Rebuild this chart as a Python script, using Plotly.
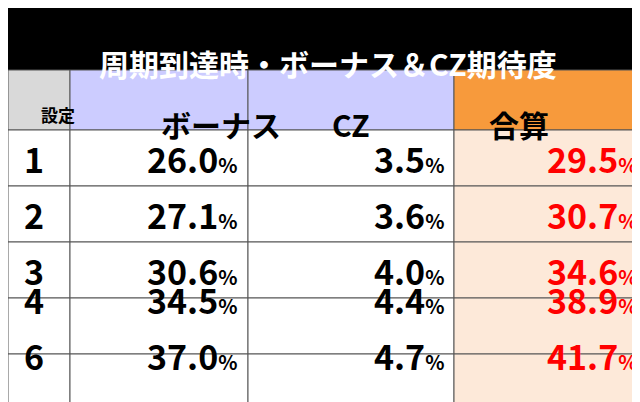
import plotly.graph_objects as go

title = "周期到達時・ボーナス＆CZ期待度"
headers = ["設定", "ボーナス", "CZ", "合算"]
settings = ["1", "2", "3", "4", "6"]
bonus = [26.0, 27.1, 30.6, 34.5, 37.0]
cz = [3.5, 3.6, 4.0, 4.4, 4.7]
total = [29.5, 30.7, 34.6, 38.9, 41.7]

FONT = "Noto Sans CJK JP"
W, H = 640, 402
col_edges = [0, 62, 240, 446, 640]
row_edges = [62, 122, 178, 234, 290, 346, 402]
header_fill = ["#d9d9d9", "#ccccff", "#ccccff", "#f79a3c"]
body_fill = ["white", "white", "white", "#fde9d9"]
text_color = ["black", "black", "black", "#ff0000"]

fx = lambda px: px / W
fy = lambda py: 1 - py / H

fig = go.Figure()
fig.add_shape(type="rect", xref="paper", yref="paper", x0=0, x1=1,
              y0=fy(row_edges[0]), y1=1, fillcolor="black", line_width=0)
fig.add_annotation(text=f"<b>{title}</b>", xref="paper", yref="paper",
                   x=0.5, y=fy(31), showarrow=False,
                   font=dict(family=FONT, size=30, color="white"))

columns = [[f"<b>{s}</b>" for s in settings]]
for vals in (bonus, cz, total):
    columns.append([f"<b>{v:.1f}</b><span style='font-size:20px'><b>%</b></span>" for v in vals])

for c in range(4):
    x0, x1 = col_edges[c], col_edges[c + 1]
    for r in range(6):
        y0, y1 = row_edges[r], row_edges[r + 1]
        fill = header_fill[c] if r == 0 else body_fill[c]
        fig.add_shape(type="rect", xref="paper", yref="paper",
                      x0=fx(x0), x1=fx(x1), y0=fy(y1), y1=fy(y0),
                      fillcolor=fill, line=dict(color="#555555", width=1))
        ym = fy((y0 + y1) / 2)
        if r == 0:
            fig.add_annotation(text=f"<b>{headers[c]}</b>", xref="paper", yref="paper",
                               x=fx((x0 + x1) / 2), y=ym, showarrow=False,
                               font=dict(family=FONT, size=17 if c == 0 else 30, color="black"))
        elif c == 0:
            fig.add_annotation(text=columns[0][r - 1], xref="paper", yref="paper",
                               x=fx(14), y=ym, xanchor="left", showarrow=False,
                               font=dict(family=FONT, size=34, color="black"))
        else:
            fig.add_annotation(text=columns[c][r - 1], xref="paper", yref="paper",
                               x=fx(x1 - 8), y=ym, xanchor="right", showarrow=False,
                               font=dict(family=FONT, size=34, color=text_color[c]))

fig.update_xaxes(visible=False)
fig.update_yaxes(visible=False)
fig.update_layout(width=W, height=H, margin=dict(l=0, r=0, t=0, b=0),
                  paper_bgcolor="white", plot_bgcolor="white", showlegend=False)
fig.write_html("out.html")
